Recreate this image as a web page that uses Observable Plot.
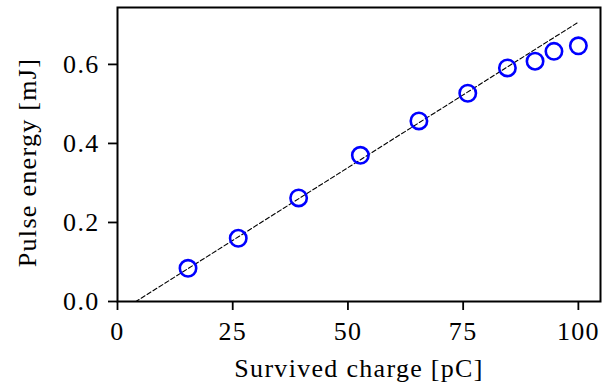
<!DOCTYPE html>
<html>
<head>
<meta charset="utf-8">
<script src="https://cdn.jsdelivr.net/npm/d3@7"></script>
<script src="https://cdn.jsdelivr.net/npm/@observablehq/plot@0.6"></script>
<style>
  html, body { margin: 0; padding: 0; background: #fff; }
  svg { display: block; }
</style>
</head>
<body>
<div id="chart"></div>
<script>
// Measured data
const charge = [15.3, 26.2, 39.3, 52.7, 65.4, 76.0, 84.6, 90.6, 94.7, 100.0];
const energy = [0.084, 0.160, 0.262, 0.370, 0.457, 0.527, 0.591, 0.608, 0.633, 0.647];
// Linear fit line endpoints
const fitX = [0, 100];
const fitY = [-0.0295, 0.707];
const xTicks = [0, 25, 50, 75, 100];
const yTicks = [0, 0.2, 0.4, 0.6];
const xLabel = "Survived charge [pC]";
const yLabel = "Pulse energy [mJ]";

const points = charge.map((c, i) => ({x: c, y: energy[i]}));
const fit = fitX.map((c, i) => ({x: c, y: fitY[i]}));

const font = "'Liberation Serif', 'DejaVu Serif', serif";

const chart = Plot.plot({
  width: 614,
  height: 390,
  marginLeft: 117,
  marginRight: 14,
  marginTop: 7,
  marginBottom: 89,
  style: {fontFamily: font, fontSize: "26px", letterSpacing: "1.3px", color: "#000", background: "#fff"},
  x: {domain: [0, 104.8], ticks: xTicks, tickFormat: d => String(d)},
  y: {domain: [0, 0.744], ticks: yTicks, tickFormat: d3.format(".1f")},
  marks: [
    Plot.line(fit, {x: "x", y: "y", stroke: "#000", strokeWidth: 1.1, strokeDasharray: "4.5,2.5", clip: true}),
    Plot.dot(points, {x: "x", y: "y", r: 8.2, stroke: "#0000ff", strokeWidth: 2.6, fill: "none"}),
    Plot.frame({stroke: "#000", strokeWidth: 2}),
    Plot.axisX({ticks: xTicks, tickSize: 9, tickPadding: 11, strokeWidth: 1.8, fontSize: 26, label: null}),
    Plot.axisY({ticks: yTicks, tickSize: 9, tickPadding: 9, strokeWidth: 1.8, fontSize: 26,
      tickFormat: d3.format(".1f"), label: null}),
    Plot.text([xLabel], {frameAnchor: "bottom", textAnchor: "middle", lineAnchor: "middle",
      dy: 67, fontSize: 26, fill: "#000"}),
    Plot.text([yLabel], {frameAnchor: "left", textAnchor: "middle", lineAnchor: "middle",
      dx: -90, dy: 8, rotate: -90, fontSize: 26, fill: "#000"})
  ]
});
document.getElementById("chart").appendChild(chart);
</script>
</body>
</html>
